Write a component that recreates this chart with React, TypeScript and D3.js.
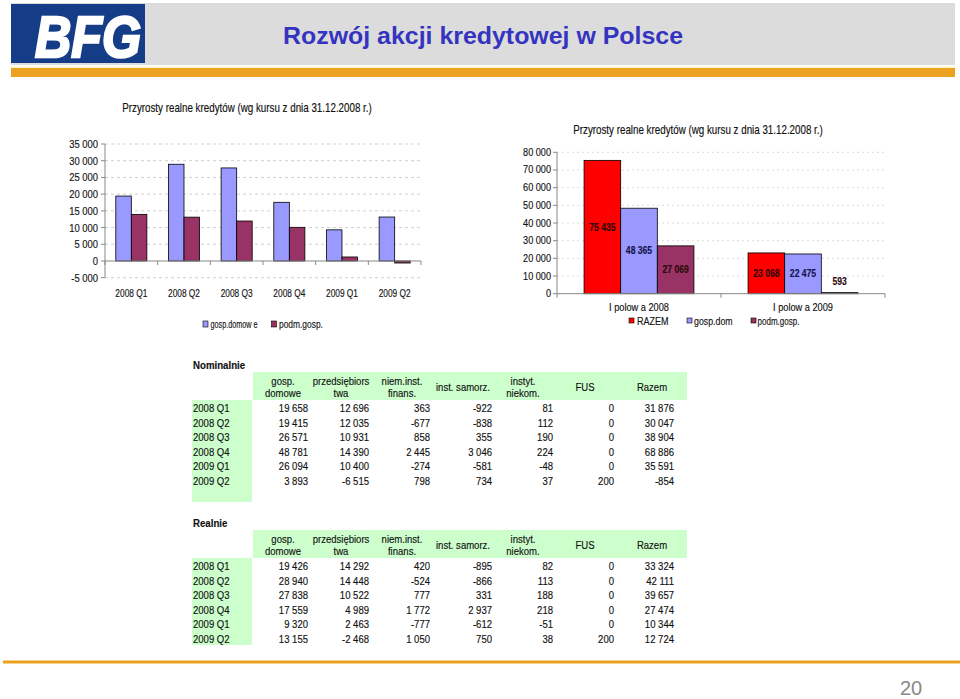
import React from "react";
import * as d3 from "d3";

// ---------- data ----------
const quarters = ["2008 Q1", "2008 Q2", "2008 Q3", "2008 Q4", "2009 Q1", "2009 Q2"];
const gospDomowe = [19426, 28940, 27838, 17559, 9320, 13155];
const podmGosp = [13950, 13119, 11960, 10070, 1200, -607];
const leftTicks = [-5000, 0, 5000, 10000, 15000, 20000, 25000, 30000, 35000];
const leftKeys = ["gosp.domow e", "podm.gosp."];

const halves = ["I polow a 2008", "I polow a 2009"];
const razemHalf = [75435, 23068];
const gospHalf = [48365, 22475];
const podmHalf = [27069, 593];
const rightTicks = [0, 10000, 20000, 30000, 40000, 50000, 60000, 70000, 80000];
const rightKeys = ["RAZEM", "gosp.dom", "podm.gosp."];

const tableHeaders = [
  ["gosp.", "domowe"],
  ["przedsiębiors", "twa"],
  ["niem.inst.", "finans."],
  ["inst. samorz."],
  ["instyt.", "niekom."],
  ["FUS"],
  ["Razem"],
];
const nominalRows = [
  [19658, 12696, 363, -922, 81, 0, 31876],
  [19415, 12035, -677, -838, 112, 0, 30047],
  [26571, 10931, 858, 355, 190, 0, 38904],
  [48781, 14390, 2445, 3046, 224, 0, 68886],
  [26094, 10400, -274, -581, -48, 0, 35591],
  [3893, -6515, 798, 734, 37, 200, -854],
];
const realRows = [
  [19426, 14292, 420, -895, 82, 0, 33324],
  [28940, 14448, -524, -866, 113, 0, 42111],
  [27838, 10522, 777, 331, 188, 0, 39657],
  [17559, 4989, 1772, 2937, 218, 0, 27474],
  [9320, 2463, -777, -612, -51, 0, 10344],
  [13155, -2468, 1050, 750, 38, 200, 12724],
];

// ---------- style ----------
const FONT = "'Liberation Sans', Arial, sans-serif";
const BLUE = "#9999ff";
const PLUM = "#993366";
const RED = "#ff0000";
const GREEN = "#ccffcc";
const ORANGE = "#eba21f";

const fmt = (v: number) => d3.format(",")(v).replace(/,/g, " ").replace("−", "-");

let _ctx: CanvasRenderingContext2D | null = null;
function measure(text: string, size: number, weight: string) {
  if (!_ctx) _ctx = document.createElement("canvas").getContext("2d");
  if (!_ctx) return text.length * size * 0.55;
  _ctx.font = `${weight} ${size}px "Liberation Sans"`;
  return _ctx.measureText(text).width;
}

// horizontally condensed text (the reference renders narrow glyphs)
function T({
  x,
  y,
  size,
  children,
  anchor = "start",
  weight = "normal",
  fill = "#111",
  f = 0.87,
  len,
}: {
  x: number;
  y: number;
  size: number;
  children: string;
  anchor?: string;
  weight?: string;
  fill?: string;
  f?: number;
  len?: number;
}) {
  const nat = measure(children, size, weight);
  const sx = len != null && nat > 0 ? len / nat : f;
  return (
    <text
      transform={`translate(${x},${y}) scale(${sx},1)`}
      fontSize={size}
      fontWeight={weight}
      fontFamily={FONT}
      textAnchor={anchor}
      fill={fill}
      stroke={fill}
      strokeWidth={0.15}
    >
      {children}
    </text>
  );
}

function LeftChart() {
  const y = d3.scaleLinear().domain([-5000, 35000]).range([277.7, 144]);
  const x0 = d3.scaleBand<string>().domain(quarters).range([105, 421]).padding(0);
  const groupW = x0.bandwidth() * 0.59;
  const x1 = d3.scaleBand<string>().domain(leftKeys).range([0, groupW]).padding(0);
  const series = [gospDomowe, podmGosp];
  const colors = [BLUE, PLUM];
  const y0 = y(0);
  return (
    <g>
      <T x={247} y={112} size={12} anchor="middle" len={250}>
        Przyrosty realne kredytów (wg kursu z dnia 31.12.2008 r.)
      </T>
      {leftTicks.map((t) => (
        <g key={t}>
          {t !== 0 && (
            <line x1={105} x2={421} y1={y(t)} y2={y(t)} stroke="#d0d0d0" strokeDasharray="3,3" />
          )}
          <line x1={101} x2={105} y1={y(t)} y2={y(t)} stroke="#888" />
          <T x={98} y={y(t) + 4} size={11.5} anchor="end" f={0.82}>{fmt(t)}</T>
        </g>
      ))}
      <line x1={105} x2={105} y1={144} y2={277.7} stroke="#888" />
      {quarters.map((q, i) => (
        <g key={q}>
          {series.map((s, k) => {
            const v = s[i];
            const xx = (x0(q) as number) + (x0.bandwidth() - groupW) / 2 + (x1(leftKeys[k]) as number);
            return (
              <rect
                key={k}
                x={xx}
                y={Math.min(y(v), y0)}
                width={x1.bandwidth()}
                height={Math.abs(y(v) - y0)}
                fill={colors[k]}
                stroke="#000"
                strokeWidth={0.8}
              />
            );
          })}
          <T x={(x0(q) as number) + x0.bandwidth() / 2} y={297} size={11.5} anchor="middle" len={32}>{q}</T>
        </g>
      ))}
      <line x1={105} x2={421} y1={y0} y2={y0} stroke="#888" />
      {d3.range(quarters.length + 1).map((i) => {
        const xx = 105 + i * x0.step();
        return <line key={i} x1={xx} x2={xx} y1={y0} y2={y0 + 4} stroke="#888" />;
      })}
      {/* legend */}
      <rect x={203} y={321} width={5} height={6} fill={BLUE} stroke="#000" strokeWidth={0.6} />
      <T x={210.5} y={328} size={11.5} len={47}>{leftKeys[0]}</T>
      <rect x={271.5} y={321} width={5} height={6} fill={PLUM} stroke="#000" strokeWidth={0.6} />
      <T x={279} y={328} size={11.5} len={44}>{leftKeys[1]}</T>
    </g>
  );
}

function RightChart() {
  const y = d3.scaleLinear().domain([0, 80000]).range([293.7, 152.3]);
  const x0 = d3.scaleBand<string>().domain(halves).range([557, 885]).padding(0);
  const groupW = x0.bandwidth() * 0.67;
  const x1 = d3.scaleBand<string>().domain(rightKeys).range([0, groupW]).padding(0);
  const series = [razemHalf, gospHalf, podmHalf];
  const colors = [RED, BLUE, PLUM];
  const y0 = y(0);
  const legendX = [629, 687, 751];
  const legendTextX = [637, 694, 757.5];
  const legendLen = [31.5, 38.7, 42];
  return (
    <g>
      <T x={698} y={134} size={12} anchor="middle" len={250}>
        Przyrosty realne kredytów (wg kursu z dnia 31.12.2008 r.)
      </T>
      {rightTicks.map((t) => (
        <g key={t}>
          {t !== 0 && (
            <line x1={557} x2={885} y1={y(t)} y2={y(t)} stroke="#dcdcdc" strokeDasharray="2,3" />
          )}
          <line x1={553} x2={557} y1={y(t)} y2={y(t)} stroke="#888" />
          <T x={551} y={y(t) + 3.5} size={11} anchor="end" f={0.83}>{fmt(t)}</T>
        </g>
      ))}
      <line x1={557} x2={557} y1={152.3} y2={293.7} stroke="#888" />
      {halves.map((h, i) => (
        <g key={h}>
          {series.map((s, k) => {
            const v = s[i];
            const xx = (x0(h) as number) + (x0.bandwidth() - groupW) / 2 + (x1(rightKeys[k]) as number);
            const top = y(v);
            const h2 = y0 - top;
            const cx = xx + x1.bandwidth() / 2;
            const ly = h2 > 20 ? top + h2 / 2 + 3.5 : top - 8;
            return (
              <g key={k}>
                <rect
                  x={xx}
                  y={top}
                  width={x1.bandwidth()}
                  height={Math.max(h2, 1)}
                  fill={colors[k]}
                  stroke="#000"
                  strokeWidth={0.8}
                />
                <T x={cx} y={ly} size={10.5} weight="bold" anchor="middle" f={0.82} fill={k === 1 ? "#14144a" : "#2a0a0a"}>
                  {fmt(v)}
                </T>
              </g>
            );
          })}
          <T x={(x0(h) as number) + x0.bandwidth() / 2} y={311} size={11} anchor="middle" len={60}>{h}</T>
        </g>
      ))}
      <line x1={557} x2={885} y1={y0} y2={y0} stroke="#888" />
      {d3.range(halves.length + 1).map((i) => {
        const xx = 557 + i * x0.step();
        return <line key={i} x1={xx} x2={xx} y1={y0} y2={y0 + 4} stroke="#888" />;
      })}
      {/* legend */}
      {rightKeys.map((k, i) => (
        <g key={k}>
          <rect x={legendX[i]} y={318} width={5} height={5} fill={colors[i]} stroke="#000" strokeWidth={0.6} />
          <T x={legendTextX[i]} y={324.5} size={11} len={legendLen[i]}>{k}</T>
        </g>
      ))}
    </g>
  );
}

const headerCenters = [283, 341, 402, 463, 523, 585, 652];
const valueRights = [308, 369, 430, 492, 553, 614, 674];

function DataTable({ title, top, rows, labelColBottom }: { title: string; top: number; rows: number[][]; labelColBottom: number }) {
  const bandTop = top + 7;
  const bandBottom = bandTop + 28;
  const rowY = d3.scaleLinear().domain([0, rows.length - 1]).range([bandBottom + 8, bandBottom + 8 + 72.5]);
  const S = 11.5;
  const F = 0.83;
  return (
    <g>
      <T x={193} y={top + 4} size={11} weight="bold" f={0.88}>{title}</T>
      <rect x={253} y={bandTop} width={434} height={28} fill={GREEN} />
      <rect x={192} y={bandBottom} width={60} height={labelColBottom - bandBottom} fill={GREEN} />
      {tableHeaders.map((h, i) =>
        h.length === 2 ? (
          <g key={i}>
            <T x={headerCenters[i]} y={bandTop + 13} size={S} anchor="middle" f={F}>{h[0]}</T>
            <T x={headerCenters[i]} y={bandTop + 25} size={S} anchor="middle" f={F}>{h[1]}</T>
          </g>
        ) : (
          <T key={i} x={headerCenters[i]} y={bandTop + 19} size={S} anchor="middle" f={F}>{h[0]}</T>
        )
      )}
      {rows.map((r, ri) => (
        <g key={ri}>
          <T x={193} y={rowY(ri) + 4} size={S} f={F}>{quarters[ri]}</T>
          {r.map((v, ci) => (
            <T key={ci} x={valueRights[ci]} y={rowY(ri) + 4} size={S} anchor="end" f={F}>
              {fmt(v)}
            </T>
          ))}
        </g>
      ))}
    </g>
  );
}

export default function App() {
  return (
    <svg width={960} height={699} style={{ position: "absolute", left: 0, top: 0, background: "#fff" }}>
      {/* header */}
      <rect x={11} y={3} width={944} height={62} fill="#dcdcdc" />
      <rect x={11} y={66} width={944} height={2} fill="#fff8d0" />
      <rect x={11} y={68} width={944} height={9} fill={ORANGE} />
      <rect x={11} y={4} width={134} height={59} fill="#153c86" />
      <text
        x={88}
        y={57}
        fontFamily={FONT}
        fontWeight="bold"
        fontStyle="italic"
        fontSize={58}
        fill="#fff"
        stroke="#fff"
        strokeWidth={2.5}
        textAnchor="middle"
        textLength={106}
        lengthAdjust="spacingAndGlyphs"
      >
        BFG
      </text>
      <text
        x={483}
        y={43.5}
        fontFamily={FONT}
        fontWeight="bold"
        fontSize={23}
        fill="#3434c0"
        textAnchor="middle"
        textLength={400}
        lengthAdjust="spacingAndGlyphs"
      >
        Rozwój akcji kredytowej w Polsce
      </text>

      <LeftChart />
      <RightChart />

      <DataTable title="Nominalnie" top={365} rows={nominalRows} labelColBottom={502} />
      <DataTable title="Realnie" top={523} rows={realRows} labelColBottom={645} />

      <rect x={3} y={660.5} width={957} height={3} fill={ORANGE} />
      <text x={911} y={695} fontFamily={FONT} fontSize={20} fill="#888" textAnchor="middle">
        20
      </text>
    </svg>
  );
}
